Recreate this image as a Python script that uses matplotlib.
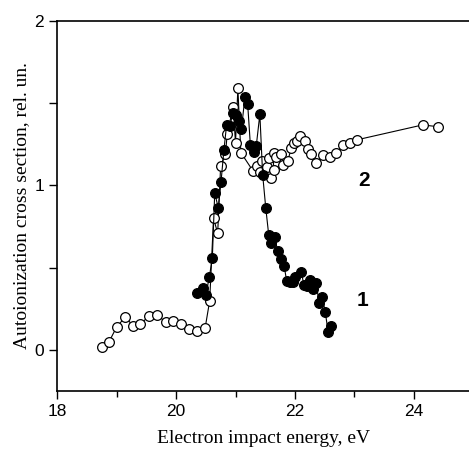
import matplotlib
matplotlib.use("Agg")
import matplotlib.pyplot as plt
from matplotlib.ticker import MultipleLocator

# curve 1: filled circles
energy_1 = [20.35, 20.46, 20.50, 20.56, 20.61, 20.65, 20.71, 20.756, 20.806, 20.85,
            20.91, 20.95, 21.01, 21.06, 21.10, 21.16, 21.205, 21.25, 21.31, 21.35,
            21.41, 21.457, 21.51, 21.56, 21.60, 21.66, 21.71, 21.76, 21.82, 21.86,
            21.92, 21.96, 22.01, 22.11, 22.15, 22.20, 22.25, 22.31, 22.355, 22.41,
            22.46, 22.51, 22.56, 22.61]
sigma_1 = [0.345, 0.377, 0.334, 0.444, 0.559, 0.953, 0.865, 1.021, 1.218, 1.368,
           1.363, 1.439, 1.43, 1.394, 1.345, 1.54, 1.494, 1.248, 1.204, 1.242,
           1.433, 1.066, 0.861, 0.697, 0.652, 0.685, 0.602, 0.555, 0.509, 0.421,
           0.415, 0.413, 0.446, 0.476, 0.393, 0.389, 0.426, 0.373, 0.409, 0.284,
           0.320, 0.233, 0.108, 0.148]

# curve 2: open circles
energy_2 = [18.747, 18.865, 19.0, 19.145, 19.28, 19.40, 19.55, 19.68, 19.825, 19.95,
            20.09, 20.21, 20.35, 20.49, 20.565, 20.63, 20.70, 20.75, 20.83, 20.86,
            20.96, 21.0, 21.04, 21.09, 21.295, 21.357, 21.41, 21.446, 21.525, 21.57,
            21.60, 21.64, 21.64, 21.69, 21.77, 21.80, 21.88, 21.94, 21.99, 22.03,
            22.086, 22.165, 22.225, 22.276, 22.36, 22.48, 22.59, 22.69, 22.81, 22.92,
            23.04, 24.15, 24.415]
sigma_2 = [0.016, 0.045, 0.14, 0.20, 0.144, 0.156, 0.209, 0.211, 0.170, 0.176,
           0.158, 0.128, 0.116, 0.136, 0.298, 0.80, 0.71, 1.12, 1.19, 1.31,
           1.48, 1.26, 1.59, 1.20, 1.088, 1.12, 1.08, 1.149, 1.114, 1.167,
           1.047, 1.094, 1.196, 1.175, 1.19, 1.127, 1.149, 1.228, 1.256, 1.269,
           1.299, 1.269, 1.224, 1.19, 1.137, 1.187, 1.173, 1.196, 1.244, 1.26,
           1.277, 1.368, 1.357]

W, H = 469, 459
fig = plt.figure(figsize=(W / 100, H / 100), dpi=100)
ax = fig.add_axes([57.3 / W, 1 - 391 / H, (469 - 57.3) / W, (391 - 21) / H])

ax.plot(energy_2, sigma_2, color='black', lw=0.8, marker='o', ms=7,
        mfc='white', mec='black', mew=0.9, zorder=2)
ax.plot(energy_1, sigma_1, color='black', lw=0.8, marker='o', ms=7,
        mfc='black', mec='black', mew=0.9, zorder=3)

ax.set_xlim(18, 18 + (469 - 57.3) / 59.4)
ax.set_ylim(-0.25, 2)
ax.xaxis.set_major_locator(MultipleLocator(2))
ax.xaxis.set_minor_locator(MultipleLocator(1))
ax.yaxis.set_major_locator(MultipleLocator(1))
ax.yaxis.set_minor_locator(MultipleLocator(0.5))
ax.tick_params(which='major', direction='out', length=6, width=1.0)
ax.tick_params(axis='x', which='minor', direction='out', length=4, width=1.0)
ax.tick_params(axis='y', which='minor', direction='out', length=6, width=1.0)
ax.tick_params(right=False, top=False)
for lab in ax.get_xticklabels() + ax.get_yticklabels():
    lab.set_family(['Liberation Sans Narrow', 'Liberation Sans'])
    lab.set_fontsize(12.5)
for s in ax.spines.values():
    s.set_linewidth(1.2)
ax.spines['right'].set_visible(False)

ax.set_xlabel('Electron impact energy, eV', family='Liberation Serif', fontsize=14, labelpad=8)
ax.set_ylabel('Autoionization cross section, rel. un.', family='Liberation Serif', fontsize=14, labelpad=3)

ax.text(23.17, 1.03, '2', family=['Liberation Sans Narrow', 'Liberation Sans'],
        fontweight='bold', fontsize=15, ha='center', va='center')
ax.text(23.14, 0.30, '1', family=['Liberation Sans Narrow', 'Liberation Sans'],
        fontweight='bold', fontsize=15, ha='center', va='center')

fig.savefig('out.png', dpi=100)
